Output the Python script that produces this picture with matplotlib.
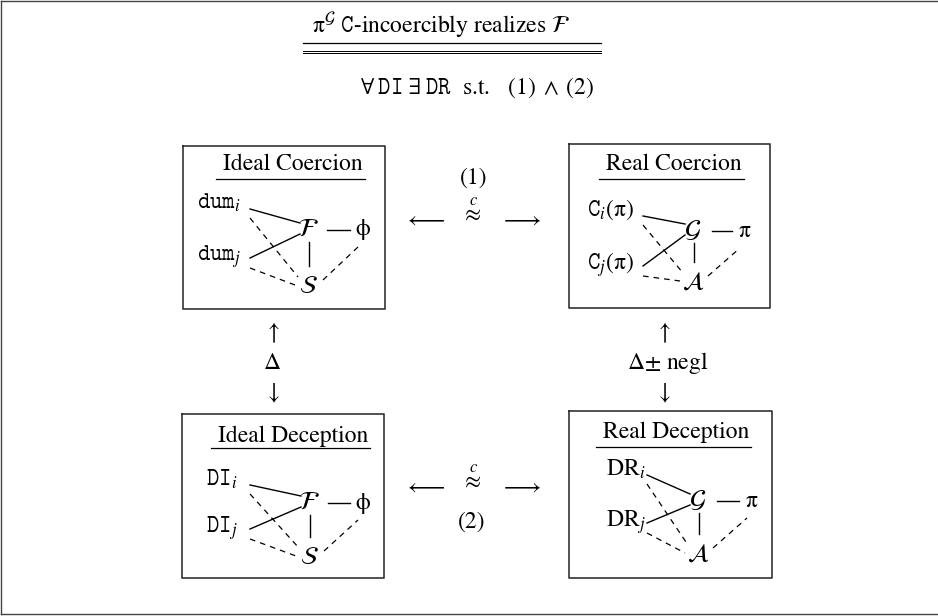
import matplotlib
matplotlib.use("Agg")
import matplotlib.pyplot as plt

plt.rcParams["font.family"] = ["STIXGeneral", "DejaVu Serif"]
plt.rcParams["mathtext.fontset"] = "stix"

# --- text content ---
TITLE = r"$\mathrm{\pi}^{\mathcal{G}}$ $\mathtt{C}$-incoercibly realizes $\mathcal{F}$"
SUBTITLE = r"$\forall\;\mathtt{DI}\;\exists\;\mathtt{DR}$  s.t.   $(1)\;\wedge\;(2)$"

panel_titles = ["Ideal Coercion", "Real Coercion", "Ideal Deception", "Real Deception"]
left_top = [r"$\mathtt{dum}_i$", r"$\mathtt{C}_i(\mathrm{\pi})$", r"$\mathtt{DI}_i$", r"$\mathrm{DR}_i$"]
left_bot = [r"$\mathtt{dum}_j$", r"$\mathtt{C}_j(\mathrm{\pi})$", r"$\mathtt{DI}_j$", r"$\mathrm{DR}_j$"]
hub_nodes = [r"$\mathcal{F}$", r"$\mathcal{G}$", r"$\mathcal{F}$", r"$\mathcal{G}$"]
right_nodes = [r"$\mathrm{\phi}$", r"$\mathrm{\pi}$", r"$\mathrm{\phi}$", r"$\mathrm{\pi}$"]
bottom_nodes = [r"$\mathcal{S}$", r"$\mathcal{A}$", r"$\mathcal{S}$", r"$\mathcal{A}$"]

relation_top = ["(1)", r"$\overset{c}{\approx}$"]
relation_bot = [r"$\overset{c}{\approx}$", "(2)"]
side_left = [r"$\uparrow$", r"$\Delta$", r"$\downarrow$"]
side_right = [r"$\uparrow$", r"$\Delta$± negl", r"$\downarrow$"]

# --- layout (pixel space, y grows downward) ---
PANELS = [
    dict(box=(183, 146, 385, 309), title=(293, 164), ul=179, lx=197, ly=(203, 257), sx=250,
         hub=(308, 230), rx=363, by=287),
    dict(box=(569, 144, 770, 308), title=(674, 164), ul=179, lx=587, ly=(210, 265), sx=643,
         hub=(693, 231), rx=745, by=283),
    dict(box=(182, 414, 384, 578), title=(293, 436), ul=448, lx=206, ly=(479, 528), sx=250,
         hub=(309, 503), rx=363, by=558),
    dict(box=(569, 411, 772, 578), title=(676, 432), ul=447, lx=606, ly=(469, 522), sx=647,
         hub=(698, 501), rx=752, by=555),
]

FS = 17
W, H = 938, 616

fig = plt.figure(figsize=(W / 100, H / 100), dpi=100)
ax = fig.add_axes([0, 0, 1, 1])
ax.set_xlim(0, W)
ax.set_ylim(H, 0)
ax.axis("off")

# outer frame (left, top, bottom)
ax.plot([1, 1], [1, 614], color="#444", lw=1.0)
ax.plot([1, W], [1, 1], color="#444", lw=1.0)
ax.plot([1, W], [614, 614], color="#444", lw=1.0)

# header
ax.text(441, 26, TITLE, fontsize=FS, ha="center", va="center")
ax.plot([303, 601], [43, 43], color="black", lw=0.9)
ax.plot([303, 601], [50.8, 50.8], color="black", lw=0.7)
ax.plot([303, 601], [53.2, 53.2], color="black", lw=0.7)
ax.text(477, 88, SUBTITLE, fontsize=FS, ha="center", va="center")

renderer = fig.canvas.get_renderer()
solid = dict(color="black", lw=1.0)
dashed = dict(color="black", lw=0.9, ls=(0, (4.5, 4)))

for k, p in enumerate(PANELS):
    x0, y0, x1, y1 = p["box"]
    ax.plot([x0, x1, x1, x0, x0], [y0, y0, y1, y1, y0], color="#333", lw=1.2)

    t = ax.text(p["title"][0], p["title"][1], panel_titles[k], fontsize=FS,
                ha="center", va="center")
    bb = t.get_window_extent(renderer).transformed(ax.transData.inverted())
    ax.plot([min(bb.x0, bb.x1) - 7, max(bb.x0, bb.x1) + 2], [p["ul"], p["ul"]],
            color="black", lw=0.9)

    yi, yj = p["ly"]
    hx, hy = p["hub"]
    rx, by, sx = p["rx"], p["by"], p["sx"]
    ax.text(p["lx"], yi, left_top[k], fontsize=FS, ha="left", va="center")
    ax.text(p["lx"], yj, left_bot[k], fontsize=FS, ha="left", va="center")
    ax.text(hx, hy, hub_nodes[k], fontsize=FS + 2, ha="center", va="center")
    ax.text(rx, hy, right_nodes[k], fontsize=FS, ha="center", va="center")
    ax.text(hx, by, bottom_nodes[k], fontsize=FS + 1, ha="center", va="center")

    ax.plot([sx, hx - 8], [yi + 6, hy - 7], **solid)
    ax.plot([sx, hx - 8], [yj + 1, hy + 4], **solid)
    ax.plot([hx + 19, rx - 13], [hy, hy], **solid)
    ax.plot([hx + 1, hx + 1], [hy + 12, by - 21], **solid)
    ax.plot([sx, hx - 10], [yi + 15, by - 10], **dashed)
    ax.plot([sx, hx - 13], [yj + 11, by - 2], **dashed)
    ax.plot([hx + 15, rx - 5], [by - 7, hy + 17], **dashed)

# horizontal relations between panels
ax.text(474, 178, relation_top[0], fontsize=FS, ha="center", va="center")
ax.text(471, 213, relation_top[1], fontsize=FS, ha="center", va="center")
ax.text(425, 220, r"$\longleftarrow$", fontsize=FS, ha="center", va="center")
ax.text(521, 220, r"$\longrightarrow$", fontsize=FS, ha="center", va="center")

ax.text(471, 480, relation_bot[0], fontsize=FS, ha="center", va="center")
ax.text(425, 487, r"$\longleftarrow$", fontsize=FS, ha="center", va="center")
ax.text(521, 487, r"$\longrightarrow$", fontsize=FS, ha="center", va="center")
ax.text(472, 522, relation_bot[1], fontsize=FS, ha="center", va="center")

# vertical relations
for y, s in zip([333, 363, 393], side_left):
    ax.text(272, y, s, fontsize=FS, ha="center", va="center")
for y, s in zip([333, 363, 393], side_right):
    ax.text(663 if "negl" not in s else 668, y, s, fontsize=FS, ha="center", va="center")

fig.savefig("out.png", dpi=100)
